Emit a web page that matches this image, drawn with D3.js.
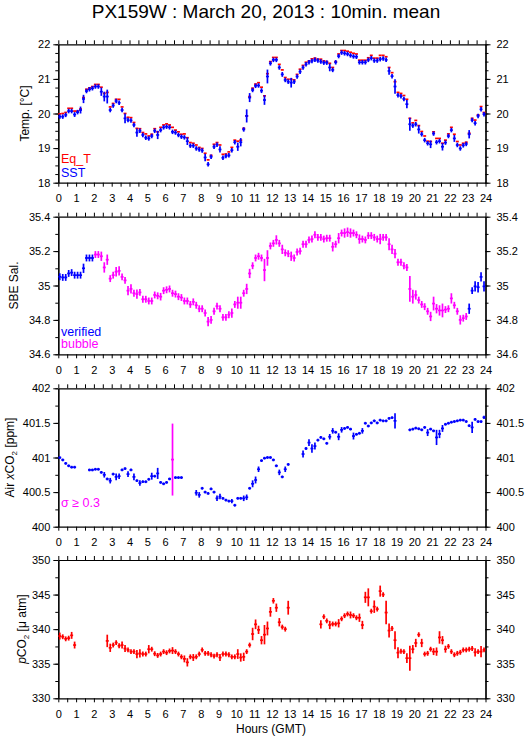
<!DOCTYPE html>
<html><head><meta charset="utf-8">
<script src="https://cdn.jsdelivr.net/npm/d3@7"></script>
<style>
body{margin:0;background:#fff}
svg{display:block}
text{font-family:"Liberation Sans",Arial,Helvetica,sans-serif}
</style>
</head><body>
<svg id="c" width="529" height="739"></svg>
<script>
// ---------------- DATA (10-minute means, index i = 10-min interval from 00:00 GMT) ----------------
const titleText = "PX159W : March 20, 2013 : 10min. mean";
const hourTicks = [0,1,2,3,4,5,6,7,8,9,10,11,12,13,14,15,16,17,18,19,20,21,22,23,24];
const tempTicks = [18,19,20,21,22];
const salTicks = [34.6,34.8,35,35.2,35.4];
const xco2Ticks = [400,400.5,401,401.5,402];
const pco2Ticks = [330,335,340,345,350];

const sst = [
19.91,19.91,19.96,20.07,20.07,19.97,20.04,20.10,20.42,20.65,20.70,20.73,
20.78,20.78,20.63,20.49,20.49,20.10,20.23,20.36,20.31,20.10,19.86,19.81,
19.80,19.67,19.45,19.50,19.38,19.30,19.28,19.35,19.50,19.38,19.52,19.60,
19.62,19.60,19.47,19.45,19.38,19.33,19.31,19.20,19.07,19.07,18.99,18.96,
18.93,18.73,18.53,18.75,19.04,19.10,18.96,18.72,18.77,18.79,18.94,19.17,
19.04,19.17,19.54,19.93,20.46,20.68,20.80,20.81,20.66,20.39,21.07,21.45,
21.55,21.55,21.33,21.13,20.97,20.92,20.89,20.92,21.07,21.21,21.33,21.42,
21.48,21.52,21.55,21.53,21.50,21.47,21.47,21.33,21.26,21.48,21.66,21.76,
21.74,21.72,21.68,21.65,21.64,21.48,21.48,21.48,21.55,21.60,21.53,21.53,
21.57,21.59,21.55,21.23,21.08,20.78,20.53,20.50,20.42,20.27,19.69,19.65,
19.69,19.54,19.40,19.23,19.14,19.11,19.42,19.17,19.20,19.04,19.16,19.35,
19.52,19.28,19.09,18.99,19.08,19.12,19.40,19.81,19.72,19.93,20.12,19.98];
const sstErr = [
.065,.065,.065,.065,.065,.07,.065,.10,.12,.065,.065,.065,
.065,.065,.12,.14,.20,.065,.065,.065,.065,.065,.14,.065,
.065,.065,.12,.065,.065,.065,.065,.065,.065,.12,.065,.065,
.065,.065,.065,.065,.065,.065,.065,.11,.065,.065,.065,.065,
.065,.11,.065,.065,.065,.065,.09,.065,.065,.065,.065,.065,
.12,.12,.065,.19,.13,.065,.065,.065,.07,.14,.20,.065,
.065,.065,.065,.07,.065,.065,.14,.065,.065,.065,.065,.065,
.065,.065,.065,.065,.065,.065,.065,.11,.065,.065,.065,.065,
.065,.065,.065,.065,.065,.065,.065,.065,.065,.065,.065,.065,
.065,.065,.065,.11,.065,.21,.065,.065,.065,.12,.19,.065,
.065,.12,.065,.065,.065,.11,.065,.065,.065,.11,.065,.065,
.065,.10,.065,.065,.065,.065,.12,.065,.065,.065,.065,.065];
const eqT = [
19.99,20.00,20.03,20.15,20.15,20.07,20.07,20.13,20.46,20.70,20.74,20.78,
20.84,20.84,20.76,20.58,20.61,20.19,20.29,20.41,20.41,20.19,20.00,19.89,
19.88,19.74,19.57,19.56,19.45,19.41,19.35,19.40,19.56,19.47,19.60,19.67,
19.70,19.67,19.60,19.52,19.47,19.40,19.41,19.30,19.16,19.14,19.09,19.02,
18.99,18.85,18.66,18.79,19.11,19.16,19.09,18.82,18.83,18.89,19.02,19.23,
19.20,19.23,19.57,19.93,20.49,20.73,20.85,20.89,20.76,20.51,21.15,21.50,
21.62,21.62,21.42,21.26,21.04,20.99,20.99,20.97,21.13,21.28,21.39,21.48,
21.52,21.58,21.60,21.57,21.57,21.52,21.50,21.45,21.33,21.50,21.72,21.82,
21.82,21.80,21.77,21.74,21.72,21.54,21.54,21.54,21.61,21.68,21.60,21.60,
21.68,21.68,21.64,21.33,21.18,20.92,20.61,20.58,20.52,20.41,19.86,19.73,
19.80,19.65,19.48,19.35,19.20,19.19,19.47,19.28,19.28,19.14,19.23,19.41,
19.60,19.40,19.19,19.09,19.14,19.17,19.43,19.86,19.81,19.96,20.20,20.03];

const sal = [
35.051,35.047,35.047,35.070,35.075,35.060,35.060,35.060,35.100,35.160,35.160,35.160,
35.180,35.180,35.170,35.105,35.150,35.040,35.060,35.080,35.085,35.050,35.030,34.970,
34.980,34.955,34.950,34.960,34.920,34.920,34.910,34.910,34.945,34.940,34.935,34.970,
34.975,34.980,34.955,34.950,34.935,34.930,34.910,34.910,34.890,34.905,34.885,34.865,
34.865,34.840,34.790,34.800,34.850,34.880,34.865,34.815,34.815,34.830,34.840,34.890,
34.900,34.900,34.955,34.980,35.070,35.115,35.160,35.170,35.160,35.090,35.160,35.230,
35.245,35.265,35.245,35.210,35.190,35.185,35.170,35.160,35.195,35.200,35.240,35.240,
35.265,35.270,35.295,35.280,35.280,35.270,35.275,35.275,35.225,35.240,35.275,35.305,
35.305,35.310,35.305,35.305,35.295,35.270,35.270,35.265,35.290,35.290,35.280,35.270,
35.270,35.280,35.280,35.240,35.210,35.185,35.135,35.135,35.115,35.105,34.980,34.935,
34.945,34.915,34.890,34.877,34.850,34.820,34.895,34.865,34.855,34.855,34.860,34.865,
34.925,34.885,34.850,34.800,34.810,34.820,34.865,34.970,34.995,34.990,35.050,34.995];
const salErr = [
.02,.02,.02,.02,.02,.02,.02,.02,.027,.02,.02,.02,
.02,.02,.027,.03,.03,.02,.02,.027,.027,.02,.02,.027,
.027,.02,.027,.02,.02,.02,.02,.02,.02,.02,.022,.02,
.02,.02,.02,.02,.02,.02,.02,.02,.02,.02,.02,.02,
.02,.02,.027,.022,.02,.02,.02,.02,.02,.02,.027,.02,
.035,.035,.02,.03,.027,.02,.02,.02,.02,.065,.045,.02,
.02,.027,.02,.027,.02,.02,.027,.02,.02,.02,.02,.02,
.02,.02,.02,.02,.02,.02,.02,.02,.027,.02,.03,.02,
.027,.027,.027,.02,.02,.027,.02,.02,.02,.02,.02,.02,
.03,.02,.02,.035,.027,.027,.02,.02,.02,.02,.075,.04,
.027,.02,.02,.02,.02,.027,.04,.027,.03,.04,.02,.02,
.03,.02,.02,.027,.02,.02,.03,.02,.03,.03,.027,.03];
// index ranges [start, end) flagged "verified"; all others "bubble"
const salVerified = [[0,12],[138,144]];

const xco2 = [
400.998,400.965,400.915,400.880,400.860,400.860,null,null,null,null,400.820,400.820,
400.830,400.830,400.785,400.750,400.690,400.665,400.760,400.720,400.730,400.820,400.840,400.760,
400.820,400.720,400.665,400.630,400.650,400.650,400.685,400.730,400.730,400.770,400.640,400.620,
400.640,400.690,400.970,400.710,400.710,400.710,null,null,null,null,400.490,400.460,
400.555,400.500,400.480,400.545,400.500,400.410,400.435,400.410,400.385,400.370,400.370,400.310,
400.410,400.410,400.410,400.425,400.555,400.620,400.675,400.830,400.955,400.990,401.000,401.000,
400.965,400.880,400.785,400.720,400.830,400.900,null,null,null,null,401.050,401.130,
401.215,401.130,401.165,401.250,401.290,401.270,401.205,401.300,401.385,401.365,401.300,401.400,
401.420,401.435,401.410,401.310,401.335,401.350,401.385,401.495,401.455,401.500,401.530,401.500,
401.540,401.530,401.530,401.565,401.575,401.530,null,null,null,null,401.400,401.410,
401.425,401.415,401.400,401.435,401.360,401.410,401.385,401.290,401.340,401.420,401.480,401.495,
401.510,401.520,401.530,401.540,401.540,401.520,401.460,401.435,401.550,401.520,401.520,401.580];
const xco2Err = [
.02,.02,.02,.02,.02,.02,null,null,null,null,.02,.02,
.02,.02,.02,.04,.02,.04,.02,.05,.04,.02,.02,.04,
.02,.05,.02,.04,.02,.02,.02,.05,.02,.08,.02,.02,
.02,.02,.52,.02,.02,.02,null,null,null,null,.04,.04,
.02,.02,.02,.02,.02,.04,.04,.02,.02,.02,.03,.02,
.02,.02,.04,.04,.02,.05,.05,.04,.02,.02,.02,.02,
.02,.02,.04,.02,.04,.02,null,null,null,null,.05,.02,
.05,.06,.05,.02,.02,.02,.02,.04,.04,.02,.05,.04,
.02,.02,.02,.05,.02,.02,.04,.02,.02,.02,.02,.02,
.02,.02,.02,.02,.02,.11,null,null,null,null,.02,.02,
.02,.02,.02,.02,.05,.02,.02,.11,.06,.05,.02,.02,
.02,.02,.02,.02,.02,.02,.02,.08,.02,.02,.02,.025];
const sigmaLimit = 0.3;

const pco2 = [
339.0,338.9,338.6,338.7,339.1,337.7,null,null,null,null,null,null,
null,null,null,null,338.3,337.3,337.7,338.05,337.6,337.7,337.2,337.0,
336.75,336.75,336.4,336.5,336.4,336.4,337.1,337.1,336.45,336.2,336.4,336.75,
336.6,336.85,336.9,336.75,336.4,336.0,335.7,335.2,336.0,335.9,336.0,336.4,
337.0,336.5,336.5,336.3,336.1,336.3,335.9,336.4,336.4,336.3,336.0,336.0,
336.4,335.9,336.0,336.75,337.7,339.3,340.7,339.9,338.4,339.2,340.1,342.5,
344.1,343.1,341.0,340.3,340.0,343.1,null,null,null,null,null,null,
null,null,null,null,340.7,341.8,341.2,340.6,340.75,340.75,340.85,341.5,
341.95,342.2,342.05,341.95,341.65,341.65,340.6,344.6,344.6,342.6,343.25,342.9,
345.5,345.0,342.4,339.8,340.1,338.4,336.6,336.8,336.75,335.8,335.8,337.1,
338.0,339.2,338.0,336.4,336.5,337.1,336.75,336.75,338.8,338.4,337.1,337.5,
336.75,336.3,336.5,336.65,337.0,337.0,337.1,337.2,336.65,336.75,336.75,337.0];
const pco2Err = [
.5,.35,.35,.35,.5,.5,null,null,null,null,null,null,
null,null,null,null,.9,.6,.35,.35,.35,.5,.5,.35,
.35,.35,.6,.6,.35,.35,.6,.35,.35,.35,.35,.35,
.35,.35,.5,.35,.35,.35,.5,.6,.35,.5,.35,.35,
.35,.35,.35,.35,.35,.35,.5,.35,.35,.35,.35,.35,
.7,.6,.6,.35,.35,.9,.7,.6,.6,1.4,1.0,.7,
.4,.6,.6,.35,.35,1.0,null,null,null,null,null,null,
null,null,null,null,.6,.35,.35,.6,.35,.35,.6,.35,
.35,.35,.5,.35,.35,.6,.6,.8,1.3,.35,.9,.35,
.8,.35,1.7,1.0,.35,1.3,.8,.35,.35,.7,1.8,.6,
.6,.35,.6,.35,.35,.35,.5,.6,.9,.6,.5,.35,
.35,.35,.35,.35,.35,.35,.35,.35,.6,.35,.8,.35];

// ---------------- DRAWING ----------------
const BLUE = "#0000ff", RED = "#ff0000", MAG = "#ff00ff";
const svg = d3.select("#c");
const X0 = 58.3, X1 = 485.5;
const x = d3.scaleLinear().domain([0, 24]).range([X0, X1]);
const halfHours = d3.range(0, 24.001, 0.5);
const STEP = 1/6; // 10 minutes in hours

svg.append("text").attr("x", 266).attr("y", 18).attr("text-anchor", "middle")
  .attr("font-size", 19).attr("fill", "#000").text(titleText);

function styleAxis(g, fs) {
  g.attr("font-family", null).attr("font-size", null);
  g.selectAll(".domain").attr("stroke", "#000").attr("stroke-width", 1.2);
  g.selectAll(".tick line").attr("stroke", "#000").attr("stroke-width", 1);
  g.selectAll(".tick text").attr("fill", "#000").attr("font-size", fs || 11);
}

function panel(p) {
  const y = d3.scaleLinear().domain(p.dom).range(p.rng);
  const g = svg.append("g");
  const minor = d3.range(p.dom[0], p.dom[1] + 1e-9, p.minorStep);
  const yTop = p.rng[1], yBot = p.rng[0];
  g.append("g").attr("transform", `translate(${X0},0)`)
    .call(d3.axisLeft(y).tickValues(minor).tickSize(3).tickSizeOuter(0).tickFormat(""))
    .call(styleAxis);
  g.append("g").attr("transform", `translate(${X1},0)`)
    .call(d3.axisRight(y).tickValues(minor).tickSize(3).tickSizeOuter(0).tickFormat(""))
    .call(styleAxis);
  g.append("g").attr("transform", `translate(${X0},0)`)
    .call(d3.axisLeft(y).tickValues(p.ticks).tickSize(5).tickPadding(3).tickSizeOuter(0).tickFormat(d => String(d)))
    .call(styleAxis);
  g.append("g").attr("transform", `translate(${X1},0)`)
    .call(d3.axisRight(y).tickValues(p.ticks).tickSize(5).tickPadding(6).tickSizeOuter(0).tickFormat(d => String(d)))
    .call(styleAxis);
  g.append("g").attr("transform", `translate(0,${yTop})`)
    .call(d3.axisTop(x).tickValues(halfHours).tickSize(4).tickSizeOuter(0).tickFormat(""))
    .call(styleAxis);
  g.append("g").attr("transform", `translate(0,${yBot})`)
    .call(d3.axisBottom(x).tickValues(halfHours).tickSize(4).tickPadding(8).tickSizeOuter(0)
      .tickFormat(d => hourTicks.includes(d) ? String(d) : ""))
    .call(styleAxis);

  const t = svg.append("text").attr("transform", `translate(${p.titleX},${(yTop + yBot) / 2}) rotate(-90)`)
    .attr("text-anchor", "middle").attr("font-size", 12).attr("fill", "#000");
  p.title(t);
  return y;
}

function drawMarks(y, vals, errs, colorFn, withBar) {
  const data = vals.map((v, i) => ({ i, v, e: errs ? errs[i] : 0 })).filter(d => d.v != null);
  const g = svg.append("g").attr("stroke-width", 1.7).attr("fill", "none");
  g.selectAll("line.h").data(data).join("line").attr("class", "h")
    .attr("x1", d => x(d.i * STEP)).attr("x2", d => x((d.i + 1) * STEP))
    .attr("y1", d => y(d.v)).attr("y2", d => y(d.v))
    .attr("stroke", d => colorFn(d));
  if (withBar) {
    g.selectAll("line.v").data(data).join("line").attr("class", "v")
      .attr("x1", d => x((d.i + 0.5) * STEP)).attr("x2", d => x((d.i + 0.5) * STEP))
      .attr("y1", d => y(d.v - d.e)).attr("y2", d => y(d.v + d.e))
      .attr("stroke", d => colorFn(d));
  }
}

function legend(txt, xx, yy, col) {
  svg.append("text").attr("x", xx).attr("y", yy).attr("font-size", 12.5).attr("fill", col).text(txt);
}

// Panel 1: temperature
const y1 = panel({ dom: [18, 22], rng: [182.7, 44.3], ticks: tempTicks, minorStep: 0.25, titleX: 29,
  title: t => t.text("Temp. [°C]") });
drawMarks(y1, eqT, null, () => RED, false);
drawMarks(y1, sst, sstErr, () => BLUE, true);
legend("Eq_T", 61, 163, RED);
legend("SST", 61, 176.5, BLUE);

// Panel 2: salinity
const isVerified = i => salVerified.some(r => i >= r[0] && i < r[1]);
const y2 = panel({ dom: [34.6, 35.4], rng: [354.3, 216.7], ticks: salTicks, minorStep: 0.1, titleX: 18,
  title: t => t.text("SBE Sal.") });
drawMarks(y2, sal, salErr, d => isVerified(d.i) ? BLUE : MAG, true);
legend("verified", 61, 335.5, BLUE);
legend("bubble", 61, 348, MAG);

// Panel 3: air xCO2
const y3 = panel({ dom: [400, 402], rng: [526.7, 388.3], ticks: xco2Ticks, minorStep: 0.25, titleX: 14,
  title: t => {
    t.append("tspan").text("Air ");
    t.append("tspan").attr("font-style", "italic").text("x");
    t.append("tspan").text("CO");
    t.append("tspan").attr("font-size", 8).attr("dy", 3).text("2");
    t.append("tspan").attr("dy", -3).text(" [ppm]");
  } });
drawMarks(y3, xco2, xco2Err, d => d.e >= sigmaLimit ? MAG : BLUE, true);
legend("σ ≥ 0.3", 61, 507, MAG);

// Panel 4: pCO2
const y4 = panel({ dom: [330, 350], rng: [698.3, 560], ticks: pco2Ticks, minorStep: 2.5, titleX: 26,
  title: t => {
    t.append("tspan").attr("font-style", "italic").text("p");
    t.append("tspan").text("CO");
    t.append("tspan").attr("font-size", 8).attr("dy", 3).text("2");
    t.append("tspan").attr("dy", -3).text(" [μ atm]");
  } });
drawMarks(y4, pco2, pco2Err, () => RED, true);

svg.append("text").attr("x", 271).attr("y", 733).attr("text-anchor", "middle")
  .attr("font-size", 12).attr("fill", "#000").text("Hours (GMT)");
</script>
</body></html>
